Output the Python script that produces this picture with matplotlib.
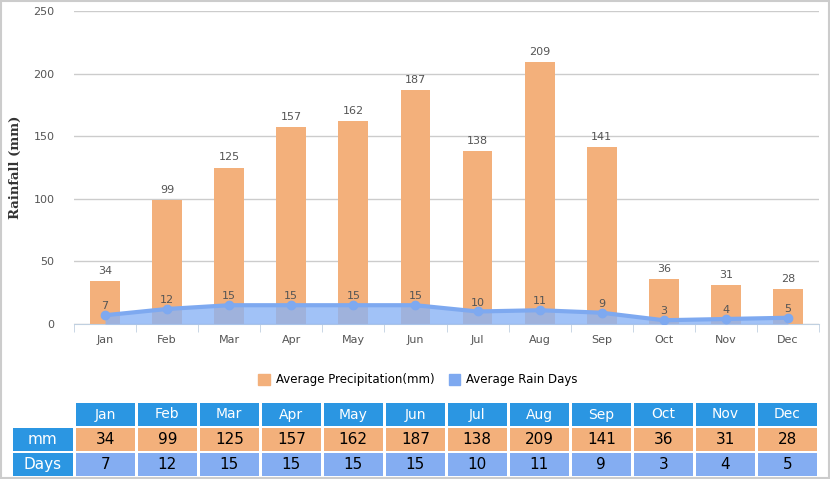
import numpy as np
import matplotlib
matplotlib.use('Agg')
import matplotlib.pyplot as plt
from matplotlib.patches import Rectangle, Patch

months = ['Jan', 'Feb', 'Mar', 'Apr', 'May', 'Jun', 'Jul', 'Aug', 'Sep', 'Oct', 'Nov', 'Dec']
rainfall = [34, 99, 125, 157, 162, 187, 138, 209, 141, 36, 31, 28]
rain_days = [7, 12, 15, 15, 15, 15, 10, 11, 9, 3, 4, 5]
yticks = [0, 50, 100, 150, 200, 250]

c_bar = '#f3b07b'
c_line = '#7ea9f0'
c_fill = '#8ab3f5'
c_head = '#2b96e2'
c_days = '#84adf2'
c_text = '#555555'

W, H = 830, 479
fig = plt.figure(figsize=(W / 100, H / 100), dpi=100)

# main chart
ax = fig.add_axes([74 / W, 1 - 324 / H, 745 / W, 313 / H])
x = np.arange(len(months))
ax.bar(x, rainfall, width=0.48, color=c_bar, zorder=2)
ax.fill_between(x, rain_days, 0, color=c_fill, alpha=0.8, zorder=3, lw=0)
ax.plot(x, rain_days, color=c_line, lw=3, marker='o', ms=6, zorder=4)
for i, v in enumerate(rainfall):
    ax.text(i, v + 4, str(v), ha='center', va='bottom', fontsize=8, color=c_text)
for i, v in enumerate(rain_days):
    ax.text(i, v + 3, str(v), ha='center', va='bottom', fontsize=8, color=c_text, zorder=5)

ax.set_xlim(-0.5, len(months) - 0.5)
ax.set_ylim(0, 250)
ax.set_yticks(yticks)
ax.yaxis.grid(True, color='#cccccc', lw=1)
ax.set_axisbelow(True)
ax.set_xticks(x)
ax.set_xticklabels(months, fontsize=8, color=c_text)
ax.set_xticks(np.arange(-0.5, len(months)), minor=True)
ax.tick_params(axis='x', which='major', length=0, pad=8)
ax.tick_params(axis='x', which='minor', length=6, color='#c0d0e0')
ax.tick_params(axis='y', length=0, labelsize=8, labelcolor=c_text, pad=14)
for s in ['top', 'right', 'left']:
    ax.spines[s].set_visible(False)
ax.spines['bottom'].set_color('#c0d0e0')
ax.set_ylabel('Rainfall (mm)', fontsize=9.5, fontweight='bold', family='DejaVu Serif',
              color='#333333', labelpad=8)

fig.legend(handles=[Patch(color=c_bar, label='Average Precipitation(mm)'),
                    Patch(color=c_line, label='Average Rain Days')],
           loc='center', bbox_to_anchor=(418 / W, 1 - 380 / H), ncol=2, frameon=False,
           fontsize=8.5, handlelength=1.0, handleheight=1.0, columnspacing=1.2, handletextpad=0.5)

# data table
tax = fig.add_axes([0, 0, 1, 1])
tax.set_xlim(0, W)
tax.set_ylim(H, 0)
tax.axis('off')
col_w = 62.0
x0 = 75.5
rows = [(403, 23), (428, 23), (453, 23)]


def cell(cx, cy, w, h, fc, label, tc, fs):
    tax.add_patch(Rectangle((cx, cy), w, h, facecolor=fc, edgecolor='none', lw=0))
    tax.text(cx + w / 2, cy + h / 2, label, ha='center', va='center', color=tc, fontsize=fs)


for j, m in enumerate(months):
    cx = x0 + j * col_w
    cell(cx, rows[0][0], col_w - 2.5, rows[0][1], c_head, m, 'white', 10)
    cell(cx, rows[1][0], col_w - 2.5, rows[1][1], c_bar, str(rainfall[j]), 'black', 11)
    cell(cx, rows[2][0], col_w - 2.5, rows[2][1], c_days, str(rain_days[j]), 'black', 11)
for (ry, rh), lab in zip(rows[1:], ['mm', 'Days']):
    cell(12.5, ry, 60.5, rh, c_head, lab, 'white', 11)

tax.add_patch(Rectangle((0.5, 0.5), W - 2, H - 2, fill=False, ec='#cccccc', lw=1.5))

fig.savefig('out.png', dpi=100)
